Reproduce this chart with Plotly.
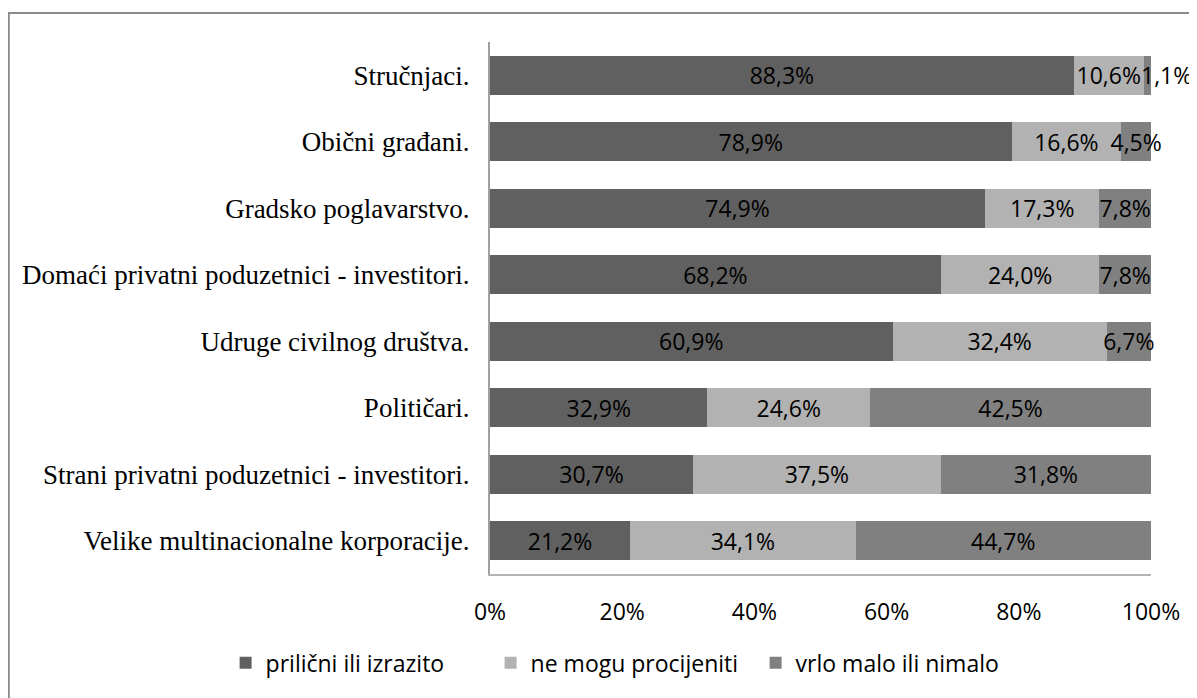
import plotly.graph_objects as go

categories = [
    "Velike multinacionalne korporacije.",
    "Strani privatni poduzetnici - investitori.",
    "Političari.",
    "Udruge civilnog društva.",
    "Domaći privatni poduzetnici - investitori.",
    "Gradsko poglavarstvo.",
    "Obični građani.",
    "Stručnjaci.",
]
prilicni = [21.2, 30.7, 32.9, 60.9, 68.2, 74.9, 78.9, 88.3]
ne_mogu = [34.1, 37.5, 24.6, 32.4, 24.0, 17.3, 16.6, 10.6]
vrlo_malo = [44.7, 31.8, 42.5, 6.7, 7.8, 7.8, 4.5, 1.1]

series_names = ["prilični ili izrazito", "ne mogu procijeniti", "vrlo malo ili nimalo"]
colors = ["#606060", "#b2b2b2", "#808080"]
x_ticks = [0, 20, 40, 60, 80, 100]
x_tick_labels = ["0%", "20%", "40%", "60%", "80%", "100%"]


def fmt(v):
    return f"{v:.1f}".replace(".", ",") + "%"


label_font = dict(family="Open Sans", size=23, color="#000000")
series = [prilicni, ne_mogu, vrlo_malo]

fig = go.Figure()
annotations = []
for i, (name, vals, col) in enumerate(zip(series_names, series, colors)):
    texts = []
    for j, v in enumerate(vals):
        if v < 2:
            texts.append("")
            base = sum(series[k][j] for k in range(i))
            annotations.append(dict(
                x=base, y=categories[j], xref="x", yref="y",
                text=fmt(v), showarrow=False, xanchor="left", xshift=-5,
                font=label_font,
            ))
        else:
            texts.append(fmt(v))
    fig.add_trace(go.Bar(
        y=categories, x=vals, name=name, orientation="h",
        marker=dict(color=col, line=dict(width=0)),
        text=texts,
        textposition="inside", insidetextanchor="middle", textangle=0,
        textfont=label_font,
        cliponaxis=False,
    ))

fig.update_layout(
    barmode="stack",
    bargap=0.41,
    width=1197, height=698,
    margin=dict(l=482, r=54, t=34, b=132),
    paper_bgcolor="white", plot_bgcolor="white",
    uniformtext=dict(minsize=23, mode="show"),
    showlegend=True,
    annotations=annotations,
    legend=dict(
        orientation="h", x=-0.40, xanchor="left", y=-0.167, yanchor="middle",
        font=dict(family="Open Sans", size=23, color="#000000"),
        traceorder="normal", itemwidth=30,
        entrywidth=220, entrywidthmode="pixels",
    ),
    xaxis=dict(
        range=[0, 100], tickvals=x_ticks, ticktext=x_tick_labels,
        showgrid=False, zeroline=False, showline=True, linecolor="#b4b4b4", linewidth=2,
        ticks="", ticklabelstandoff=16,
        tickfont=dict(family="Open Sans", size=23, color="#000000"),
    ),
    yaxis=dict(
        range=[-0.5, 7.5], showgrid=False, zeroline=False,
        showline=True, linecolor="#a0a0a0", linewidth=2,
        ticks="", ticklabelstandoff=13,
        tickfont=dict(family="Liberation Serif", size=27, color="#000000"),
    ),
    shapes=[dict(
        type="rect", xref="paper", yref="paper",
        x0=-0.728, x1=1.3, y0=-0.6, y1=1.0545,
        line=dict(color="#8a8a8a", width=2), layer="below",
    )],
)

fig.write_html("out.html")
